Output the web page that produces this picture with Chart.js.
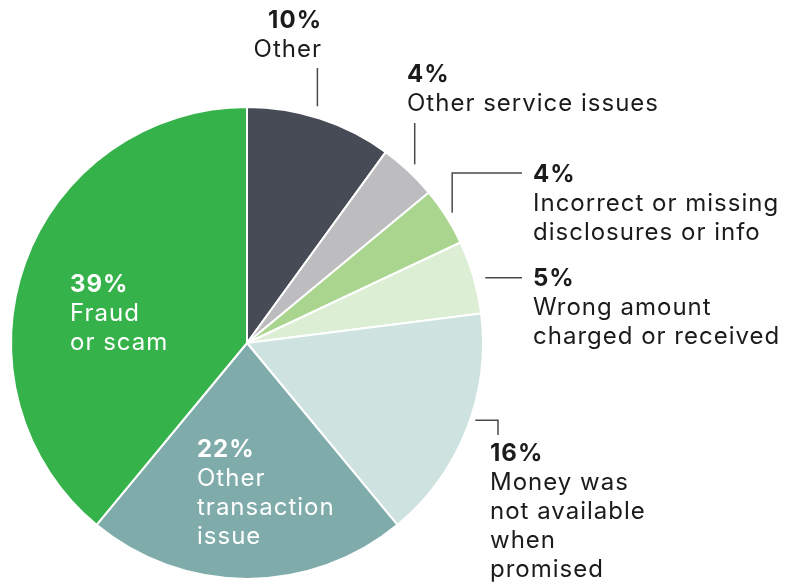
<!DOCTYPE html>
<html>
<head>
<meta charset="utf-8">
<script src="https://cdn.jsdelivr.net/npm/chart.js@4.4.1/dist/chart.umd.min.js"></script>
<style>
  html, body { margin: 0; padding: 0; background: #fff; }
  #chart { display: block; }
</style>
</head>
<body>
<canvas id="chart" width="786" height="587"></canvas>
<script>
// complaint categories, clockwise from 12 o'clock
const categories = [
  'Other',
  'Other service issues',
  'Incorrect or missing disclosures or info',
  'Wrong amount charged or received',
  'Money was not available when promised',
  'Other transaction issue',
  'Fraud or scam'
];
const shares = [10, 4, 4, 5, 16, 22, 39];
const sliceColors = ['#474b55', '#bdbdbf', '#a9d58f', '#dceed4', '#cee2df', '#7fabab', '#35b34a'];

// how each label is written (lines after the percentage)
const labelLines = [
  ['Other'],
  ['Other service issues'],
  ['Incorrect or missing', 'disclosures or info'],
  ['Wrong amount', 'charged or received'],
  ['Money was', 'not available', 'when', 'promised'],
  ['Other', 'transaction', 'issue'],
  ['Fraud', 'or scam']
];

// label placement + leader routing (layout only)
const labelLayout = [
  { x: 322, y: 28, align: 'right', color: '#1b1b1b', frac: 0.46, gap: 11, route: [['v', 68]] },
  { x: 407, y: 82, align: 'left', color: '#1b1b1b', frac: 0.5, gap: 9, route: [['v', 123]] },
  { x: 533, y: 182, align: 'left', color: '#1b1b1b', frac: 0.5, gap: 7, route: [['v', 173], ['h', 522]] },
  { x: 533, y: 286, align: 'left', color: '#1b1b1b', frac: 0.55, gap: 11, route: [['h', 522]] },
  { x: 490, y: 461, align: 'left', color: '#1b1b1b', frac: 0.45, gap: 5, route: [['h', 498], ['v', 435]] },
  { x: 197, y: 457, align: 'left', color: '#ffffff' },
  { x: 70, y: 292, align: 'left', color: '#ffffff' }
];

const FONT = '"Inter", "Open Sans", sans-serif';
const LINE_H = 29;

const pieLabels = {
  id: 'pieLabels',
  afterDraw(chart) {
    const ctx = chart.ctx;
    const arcs = chart.getDatasetMeta(0).data;
    ctx.save();
    arcs.forEach((arc, i) => {
      const lay = labelLayout[i];
      if (!lay) return;
      // leader line
      if (lay.route) {
        const { x, y, startAngle, endAngle, outerRadius } = arc.getProps(['x', 'y', 'startAngle', 'endAngle', 'outerRadius'], true);
        const a = startAngle + (endAngle - startAngle) * lay.frac;
        let px = x + Math.cos(a) * (outerRadius + lay.gap);
        let py = y + Math.sin(a) * (outerRadius + lay.gap);
        ctx.beginPath();
        ctx.strokeStyle = '#4a4a4a';
        ctx.lineWidth = 1.5;
        ctx.moveTo(px, py);
        lay.route.forEach(([dir, v]) => {
          if (dir === 'v') py = v; else px = v;
          ctx.lineTo(px, py);
        });
        ctx.stroke();
      }
      // text
      ctx.fillStyle = lay.color;
      ctx.textAlign = lay.align;
      ctx.textBaseline = 'alphabetic';
      ctx.letterSpacing = '1px';
      ctx.font = '700 24px ' + FONT;
      ctx.fillText(shares[i] + '%', lay.x, lay.y);
      ctx.font = '400 24px ' + FONT;
      labelLines[i].forEach((t, k) => ctx.fillText(t, lay.x, lay.y + LINE_H * (k + 1)));
    });
    ctx.restore();
  }
};

new Chart(document.getElementById('chart'), {
  type: 'pie',
  data: {
    labels: categories,
    datasets: [{
      data: shares,
      backgroundColor: sliceColors,
      borderColor: '#ffffff',
      borderWidth: 2
    }]
  },
  options: {
    responsive: false,
    animation: false,
    layout: { padding: { left: 10, right: 302, top: 106, bottom: 7 } },
    plugins: { legend: { display: false }, tooltip: { enabled: false } }
  },
  plugins: [pieLabels]
});
</script>
</body>
</html>
